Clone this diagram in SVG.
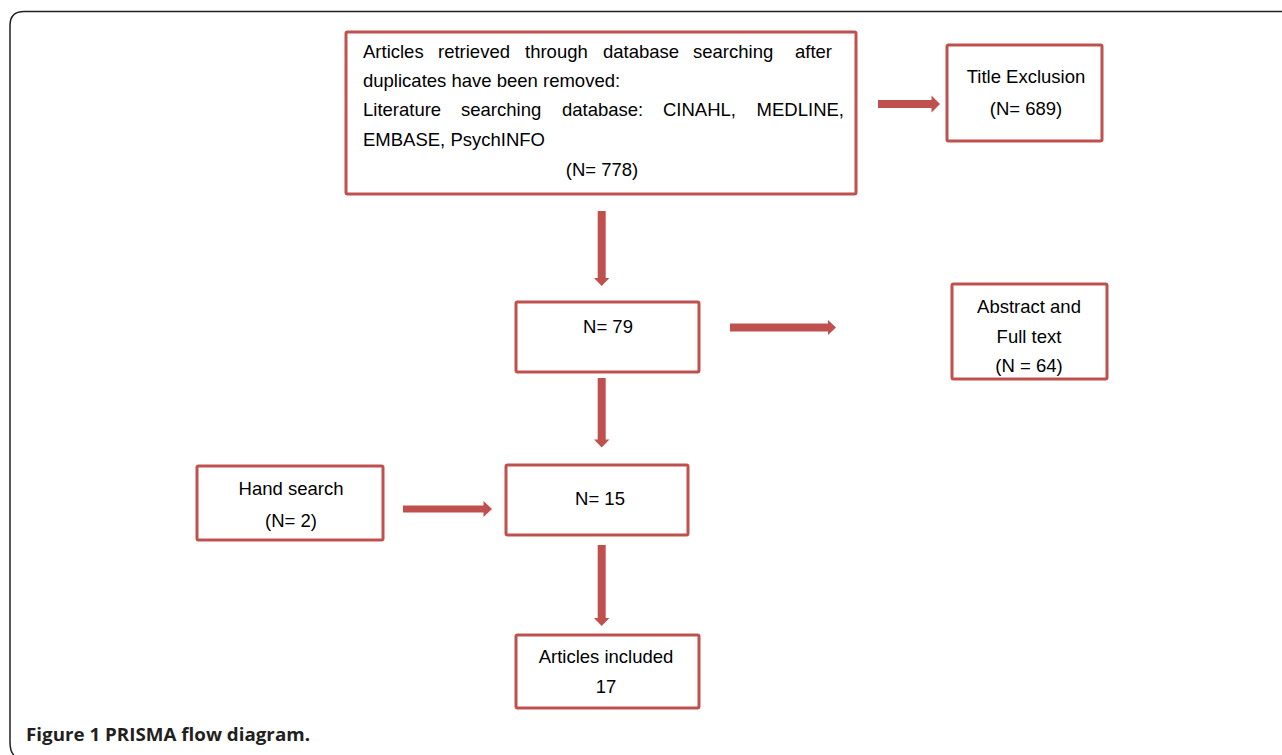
<svg xmlns="http://www.w3.org/2000/svg" width="1282" height="755" viewBox="0 0 1282 755">
<style>
.box{fill:#fff;stroke:#C0504D;stroke-width:3}
.arr{fill:#C0504D;stroke:none}
.t{font-family:"Liberation Sans",Arial,sans-serif;font-size:18.5px;fill:#000}
.c{text-anchor:middle}
.cap{font-family:"Open Sans","Noto Sans",sans-serif;font-size:17px;font-weight:bold;fill:#231f20}
</style>
<rect width="1282" height="755" fill="#fff"/>
<path d="M1282,11.5 H24 Q10,11.5 10,25.5 V742 Q10,752 14,755" fill="none" stroke="#231f20" stroke-width="1.5"/>
<g id="connectors">
<path class="arr" d="M878,100 H931.5 V95.5 L940,104 L931.5,112.5 V108 H878 Z"/>
<path class="arr" d="M597.7,211 V278 H594 L601.7,286 L609.4,278 H605.7 V211 Z"/>
<path class="arr" d="M730,323.5 H828 V320 L836,327.5 L828,335 V331.5 H730 Z"/>
<path class="arr" d="M597.7,378 V439.5 H594 L601.7,447.5 L609.4,439.5 H605.7 V378 Z"/>
<path class="arr" d="M403,505.5 H483.5 V501 L492,509 L483.5,517 V512.5 H403 Z"/>
<path class="arr" d="M597.7,545 V618 H594 L601.7,626 L609.4,618 H605.7 V545 Z"/>
</g>
<g id="n-articles-retrieved">
<rect class="box" x="346" y="32" width="510" height="162" rx="1.5"/>
<text class="t" y="58"><tspan x="363">Articles</tspan><tspan x="438">retrieved</tspan><tspan x="525">through</tspan><tspan x="603">database</tspan><tspan x="693">searching</tspan><tspan x="795">after</tspan></text>
<text class="t" x="363" y="87">duplicates have been removed:</text>
<text class="t" y="116"><tspan x="363">Literature</tspan><tspan x="461">searching</tspan><tspan x="562">database:</tspan><tspan x="663">CINAHL,</tspan><tspan x="844" text-anchor="end">MEDLINE,</tspan></text>
<text class="t" x="363" y="146">EMBASE, PsychINFO</text>
<text class="t c" x="602" y="176">(N= 778)</text>
</g>
<g id="n-title-exclusion">
<rect class="box" x="947" y="45" width="155" height="96" rx="1.5"/>
<text class="t c" x="1026" y="83">Title Exclusion</text>
<text class="t c" x="1026" y="115">(N= 689)</text>
</g>
<g id="n-79">
<rect class="box" x="516" y="302" width="183" height="70" rx="1.5"/>
<text class="t c" x="608" y="333">N= 79</text>
</g>
<g id="n-abstract">
<rect class="box" x="952" y="284" width="155" height="95" rx="1.5"/>
<text class="t c" x="1029" y="313">Abstract and</text>
<text class="t c" x="1029" y="343">Full text</text>
<text class="t c" x="1029" y="372">(N = 64)</text>
</g>
<g id="n-hand-search">
<rect class="box" x="197" y="466" width="186" height="74" rx="1.5"/>
<text class="t c" x="291" y="495">Hand search</text>
<text class="t c" x="291" y="527">(N= 2)</text>
</g>
<g id="n-15">
<rect class="box" x="506" y="465" width="182" height="70" rx="1.5"/>
<text class="t c" x="600" y="505">N= 15</text>
</g>
<g id="n-included">
<rect class="box" x="516" y="635" width="183" height="73" rx="1.5"/>
<text class="t c" x="606" y="663">Articles included</text>
<text class="t c" x="606" y="693">17</text>
</g>
<text class="cap" x="26" y="741" textLength="284" lengthAdjust="spacingAndGlyphs">Figure 1 PRISMA flow diagram.</text>
</svg>
